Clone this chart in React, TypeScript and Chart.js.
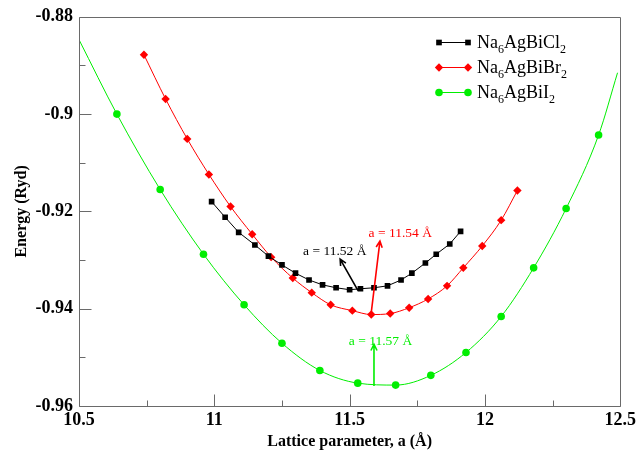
import { useEffect, useRef } from "react";
import { Chart, registerables } from "chart.js";
Chart.register(...registerables);

// Na6AgBiCl2
const clA = [10.99, 11.04, 11.09, 11.15, 11.2, 11.25, 11.3, 11.35, 11.4, 11.45, 11.5, 11.54, 11.59, 11.64, 11.69, 11.73, 11.78, 11.82, 11.87, 11.91];
const clE = [-0.918, -0.9212, -0.9243, -0.9269, -0.9292, -0.931, -0.9327, -0.9341, -0.9351, -0.9357, -0.9361, -0.9359, -0.9357, -0.9353, -0.9341, -0.9327, -0.9306, -0.9288, -0.9267, -0.9241];
// Na6AgBiBr2
const brA = [10.74, 10.82, 10.9, 10.98, 11.06, 11.14, 11.21, 11.29, 11.36, 11.43, 11.51, 11.58, 11.65, 11.72, 11.79, 11.86, 11.92, 11.99, 12.06, 12.12];
const brE = [-0.8878, -0.8969, -0.9051, -0.9124, -0.919, -0.9247, -0.9294, -0.9337, -0.9367, -0.9392, -0.9404, -0.9412, -0.941, -0.9398, -0.938, -0.9353, -0.9316, -0.9271, -0.9218, -0.9157];
// Na6AgBiI2
const iA = [10.64, 10.8, 10.96, 11.11, 11.25, 11.39, 11.53, 11.67, 11.8, 11.93, 12.06, 12.18, 12.3, 12.42];
const iE = [-0.9, -0.9155, -0.9288, -0.9392, -0.9471, -0.9527, -0.9553, -0.9557, -0.9537, -0.949, -0.9416, -0.9316, -0.9194, -0.9043];
// fitted curve ends (where the green fit leaves the frame)
const iFitStart = { x: 10.5, y: -0.8847 };
const iFitEnd = { x: 12.49, y: -0.8915 };

const xTicks = [10.5, 11, 11.5, 12, 12.5];
const yTicks = [-0.96, -0.94, -0.92, -0.9, -0.88];
const xMinor = [10.75, 11.25, 11.75, 12.25];
const yMinor = [-0.95, -0.93, -0.91, -0.89];

const seriesNames = [
  [["Na", 0], ["6", 1], ["AgBiCl", 0], ["2", 1]],
  [["Na", 0], ["6", 1], ["AgBiBr", 0], ["2", 1]],
  [["Na", 0], ["6", 1], ["AgBiI", 0], ["2", 1]],
] as [string, number][][];
const seriesColors = ["#000000", "#ff0000", "#00ee00"];
const seriesStyles = ["rect", "rectRot", "circle"];
const seriesRadius = [4, 4.2, 3.8];

const annotations = [
  { text: "a = 11.52 Å", color: "#000000", tx: 11.445, ty: -0.9282, from: [11.531, -0.9363], to: [11.465, -0.9298] },
  { text: "a = 11.54 Å", color: "#ff0000", tx: 11.687, ty: -0.9245, from: [11.579, -0.9412], to: [11.612, -0.9261] },
  { text: "a = 11.57 Å", color: "#00ee00", tx: 11.614, ty: -0.9467, from: [11.59, -0.9559], to: [11.59, -0.9473] },
];

const SERIF = "'Liberation Serif', 'Times New Roman', serif";

export default function App() {
  const ref = useRef<HTMLCanvasElement | null>(null);
  useEffect(() => {
    document.body.style.margin = "0";
    const canvas = ref.current;
    if (!canvas) return;

    const iData = [iFitStart, ...iA.map((x, i) => ({ x, y: iE[i] })), iFitEnd];
    const iRadius = iData.map((_, i) => (i === 0 || i === iData.length - 1 ? 0 : seriesRadius[2]));

    const framePlugin = {
      id: "frameTicks",
      afterDatasetsDraw(chart: any) {
        const { ctx, chartArea: a, scales } = chart;
        const xs = scales.x, ys = scales.y;
        ctx.save();
        ctx.strokeStyle = "#6a6a6a";
        ctx.lineWidth = 1;
        ctx.beginPath();
        ctx.rect(Math.round(a.left) + 0.5, Math.round(a.top) + 0.5, Math.round(a.right - a.left), Math.round(a.bottom - a.top));
        ctx.stroke();
        ctx.beginPath();
        const b = Math.round(a.bottom) + 0.5;
        xTicks.forEach((v) => {
          const px = Math.round(xs.getPixelForValue(v)) + 0.5;
          ctx.moveTo(px, b);
          ctx.lineTo(px, b - 12);
        });
        xMinor.forEach((v) => {
          const px = Math.round(xs.getPixelForValue(v)) + 0.5;
          ctx.moveTo(px, b);
          ctx.lineTo(px, b - 6);
        });
        const l = Math.round(a.left) + 0.5;
        yTicks.forEach((v) => {
          const py = Math.round(ys.getPixelForValue(v)) + 0.5;
          ctx.moveTo(l, py);
          ctx.lineTo(l + 12, py);
        });
        yMinor.forEach((v) => {
          const py = Math.round(ys.getPixelForValue(v)) + 0.5;
          ctx.moveTo(l, py);
          ctx.lineTo(l + 6, py);
        });
        ctx.stroke();
        ctx.restore();
      },
    };

    const drawMarker = (ctx: any, style: string, x: number, y: number, r: number, color: string) => {
      ctx.fillStyle = color;
      ctx.beginPath();
      if (style === "rect") {
        const s = Math.SQRT1_2 * r;
        ctx.rect(x - s, y - s, 2 * s, 2 * s);
      } else if (style === "rectRot") {
        ctx.moveTo(x - r, y);
        ctx.lineTo(x, y + r);
        ctx.lineTo(x + r, y);
        ctx.lineTo(x, y - r);
        ctx.closePath();
      } else {
        ctx.arc(x, y, r, 0, Math.PI * 2);
      }
      ctx.fill();
    };

    const annoPlugin = {
      id: "annoLegend",
      afterDraw(chart: any) {
        const { ctx, scales } = chart;
        const xs = scales.x, ys = scales.y;
        ctx.save();
        annotations.forEach((an) => {
          const x1 = xs.getPixelForValue(an.from[0]);
          const y1 = ys.getPixelForValue(an.from[1]);
          const x2 = xs.getPixelForValue(an.to[0]);
          const y2 = ys.getPixelForValue(an.to[1]);
          ctx.strokeStyle = an.color;
          ctx.lineWidth = 1.6;
          ctx.beginPath();
          ctx.moveTo(x1, y1);
          ctx.lineTo(x2, y2);
          const ang = Math.atan2(y2 - y1, x2 - x1);
          const h = 7;
          ctx.moveTo(x2 - h * Math.cos(ang - 0.45), y2 - h * Math.sin(ang - 0.45));
          ctx.lineTo(x2, y2);
          ctx.lineTo(x2 - h * Math.cos(ang + 0.45), y2 - h * Math.sin(ang + 0.45));
          ctx.stroke();
          ctx.fillStyle = an.color;
          ctx.font = `13.5px ${SERIF}`;
          ctx.textAlign = "center";
          ctx.textBaseline = "middle";
          ctx.fillText(an.text, xs.getPixelForValue(an.tx), ys.getPixelForValue(an.ty));
        });
        const lx1 = 439, lx2 = 468, tx = 477;
        const rows = [42, 67, 92];
        seriesNames.forEach((parts, i) => {
          const y = rows[i];
          ctx.strokeStyle = seriesColors[i];
          ctx.lineWidth = 1;
          ctx.beginPath();
          ctx.moveTo(lx1, y + 0.5);
          ctx.lineTo(lx2, y + 0.5);
          ctx.stroke();
          drawMarker(ctx, seriesStyles[i], lx1, y + 0.5, seriesRadius[i], seriesColors[i]);
          drawMarker(ctx, seriesStyles[i], lx2, y + 0.5, seriesRadius[i], seriesColors[i]);
          let x = tx;
          ctx.fillStyle = "#000";
          ctx.textAlign = "left";
          ctx.textBaseline = "alphabetic";
          parts.forEach(([t, sub]) => {
            ctx.font = sub ? `12px ${SERIF}` : `18px ${SERIF}`;
            ctx.fillText(t, x, y + 6 + (sub ? 5 : 0));
            x += ctx.measureText(t).width;
          });
        });
        ctx.restore();
      },
    };

    const tickFont = { family: SERIF, size: 18, weight: "bold" as const };
    const chart = new Chart(canvas, {
      type: "scatter",
      data: {
        datasets: [
          {
            label: "Na6AgBiCl2",
            data: clA.map((x, i) => ({ x, y: clE[i] })),
            showLine: true,
            borderColor: seriesColors[0],
            backgroundColor: seriesColors[0],
            borderWidth: 1,
            pointStyle: "rect",
            pointRadius: seriesRadius[0],
            pointBorderWidth: 0,
            tension: 0,
          },
          {
            label: "Na6AgBiBr2",
            data: brA.map((x, i) => ({ x, y: brE[i] })),
            showLine: true,
            borderColor: seriesColors[1],
            backgroundColor: seriesColors[1],
            borderWidth: 1,
            pointStyle: "rectRot",
            pointRadius: seriesRadius[1],
            pointBorderWidth: 0,
            cubicInterpolationMode: "monotone",
          },
          {
            label: "Na6AgBiI2",
            data: iData,
            showLine: true,
            borderColor: seriesColors[2],
            backgroundColor: seriesColors[2],
            borderWidth: 1,
            pointStyle: "circle",
            pointRadius: iRadius,
            pointBorderWidth: 0,
            cubicInterpolationMode: "monotone",
          },
        ],
      },
      options: {
        animation: false,
        responsive: false,
        events: [],
        layout: { padding: { top: 14, right: 16, left: 0, bottom: 0 } },
        plugins: { legend: { display: false }, tooltip: { enabled: false } },
        scales: {
          x: {
            type: "linear",
            min: 10.5,
            max: 12.5,
            afterBuildTicks: (s: any) => {
              s.ticks = xTicks.map((v) => ({ value: v }));
            },
            afterFit: (s: any) => {
              s.height = 46;
            },
            grid: { display: false, drawTicks: false },
            border: { display: false },
            ticks: {
              color: "#000",
              font: tickFont,
              padding: 4,
              maxRotation: 0,
              autoSkip: false,
              callback: (v: any) => String(v),
            },
            title: {
              display: true,
              text: "Lattice parameter, a (Å)",
              color: "#000",
              font: { family: SERIF, size: 16, weight: "bold" },
              padding: { top: 0, bottom: 1 },
            },
          },
          y: {
            type: "linear",
            min: -0.96,
            max: -0.88,
            afterBuildTicks: (s: any) => {
              s.ticks = yTicks.map((v) => ({ value: v }));
            },
            afterFit: (s: any) => {
              s.width = 79;
            },
            grid: { display: false, drawTicks: false },
            border: { display: false },
            ticks: {
              color: "#000",
              font: tickFont,
              padding: 6,
              autoSkip: false,
              callback: (v: any) => String(parseFloat(Number(v).toFixed(2))),
            },
            title: {
              display: true,
              text: "Energy (Ryd)",
              color: "#000",
              font: { family: SERIF, size: 16, weight: "bold" },
              padding: { top: 12, bottom: 0 },
            },
          },
        },
      },
      plugins: [framePlugin, annoPlugin],
    } as any);
    return () => chart.destroy();
  }, []);
  return (
    <div style={{ width: 640, height: 452, background: "#fff" }}>
      <canvas ref={ref} width={640} height={452} />
    </div>
  );
}
